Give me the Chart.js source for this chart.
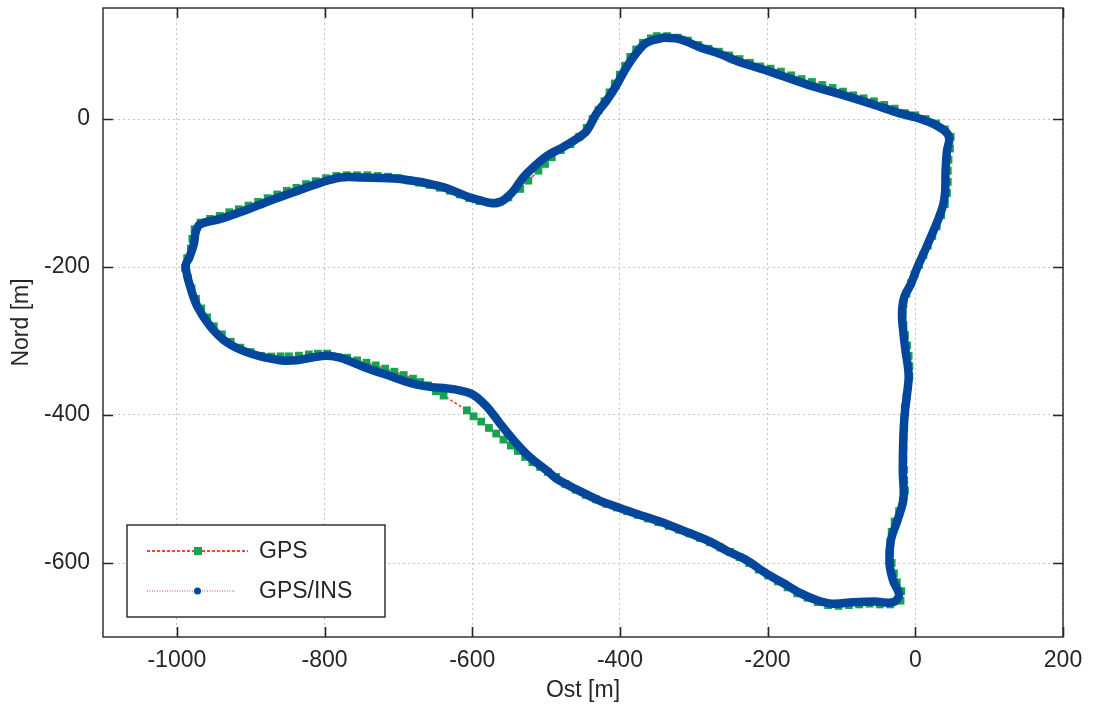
<!DOCTYPE html>
<html>
<head>
<meta charset="utf-8">
<script src="https://cdn.jsdelivr.net/npm/chart.js@4.4.1/dist/chart.umd.min.js"></script>
<style>
  html, body { margin: 0; padding: 0; background: #fff; }
  #wrap { width: 1098px; height: 705px; }
</style>
</head>
<body>
<div id="wrap"><canvas id="trackChart"></canvas></div>
<script>
// tick labels
const xTicks = [-1000, -800, -600, -400, -200, 0, 200];
const yTicks = [-600, -400, -200, 0];

// GPS/INS track [Ost, Nord] in m
const insTrack = [
  [-341, 110], [-319, 108], [-292, 97], [-265, 88], [-238, 77], [-200, 65],
  [-148, 47], [-103, 34], [-58, 20], [-22, 8], [1, 2], [23, -6], [41, -17],
  [46, -27], [43, -42], [41, -70], [40.5, -97], [38, -115], [32, -133],
  [23, -155], [12, -180], [3, -200], [-6, -223], [-15, -241], [-18, -263],
  [-16, -290], [-13, -315], [-10, -335], [-9, -350], [-11, -370], [-14, -395],
  [-16, -425], [-17, -475], [-16, -513], [-24, -542], [-33, -569], [-35, -600],
  [-30, -624], [-22, -643], [-30, -653], [-55, -652], [-85, -653], [-112, -655],
  [-134, -650], [-157, -640], [-179, -627], [-202, -614], [-229, -596],
  [-256, -583], [-278, -571], [-315, -556], [-346, -544], [-382, -532],
  [-405, -524], [-427, -516], [-456, -502], [-486, -486], [-499, -475],
  [-522, -457], [-544, -434], [-562, -412], [-580, -389], [-598, -373],
  [-616, -367], [-634, -364], [-657, -362], [-679, -358], [-715, -346],
  [-747, -335], [-778, -323], [-796, -320], [-815, -322], [-837, -326],
  [-860, -326], [-900, -317], [-932, -302], [-954, -281], [-972, -254],
  [-983, -223], [-988, -198], [-983, -187], [-977, -169], [-974, -151],
  [-968, -142], [-941, -135], [-909, -124], [-873, -110], [-842, -99],
  [-805, -86], [-778, -79], [-751, -79], [-697, -81], [-643, -91],
  [-603, -106], [-589, -110], [-571, -114], [-558, -110], [-544, -97],
  [-531, -79], [-517, -65], [-499, -50], [-477, -38], [-459, -27],
  [-445, -16], [-432, 7], [-418, 25], [-405, 45], [-391, 70], [-377, 90],
  [-364, 103], [-341, 110]
];

// GPS fixes [Ost, Nord] in m
const gpsTrack = [
  [-350, 112], [-336, 112], [-322, 110], [-308, 106], [-294, 100], [-280, 95],
  [-266, 91], [-252, 86], [-238, 81], [-224, 76], [-210, 71], [-196, 68],
  [-182, 64], [-168, 59], [-154, 54], [-140, 50], [-126, 46], [-112, 42],
  [-98, 37], [-84, 32], [-70, 28], [-56, 24], [-42, 19], [-28, 14], [-14, 8],
  [0, 5], [14, 0], [28, -6], [40, -14], [48, -24],
  [47, -40], [45, -55], [44, -70], [44, -85], [43, -100], [40, -115],
  [35, -130], [29, -145], [23, -158], [17, -171], [11, -184], [5, -197],
  [-1, -210], [-6, -222], [-12, -236], [-16, -250], [-17, -264], [-16, -278],
  [-14, -292], [-11, -306], [-9, -320], [-8, -334], [-8, -348], [-10, -362],
  [-12, -376], [-14, -390], [-15, -404], [-15, -418], [-16, -432], [-16, -446],
  [-16, -460], [-15, -474], [-15, -488], [-14, -502], [-17, -516], [-22, -530],
  [-28, -544], [-32, -558], [-34, -572], [-34, -586], [-32, -600], [-29, -614],
  [-25, -626], [-19, -638], [-20, -651],
  [-34, -656], [-48, -656], [-62, -655], [-76, -656], [-90, -657], [-104, -658],
  [-118, -657], [-132, -653], [-146, -647], [-160, -641], [-173, -633],
  [-186, -625], [-199, -617], [-212, -609], [-225, -600], [-238, -592],
  [-251, -585], [-264, -579], [-278, -572], [-292, -566], [-306, -560],
  [-320, -555], [-334, -550], [-348, -545], [-362, -540], [-376, -535],
  [-390, -530], [-404, -525], [-418, -520], [-432, -514], [-446, -508],
  [-460, -501], [-474, -493], [-486.5, -483.7], [-497.7, -476.9],
  [-508.1, -470.2], [-518.5, -463.8], [-528.4, -456.7], [-538.2, -448.6],
  [-547.7, -441.3], [-557.7, -433.2], [-567.6, -425.1], [-577.4, -417.5],
  [-587.8, -408.9], [-598.2, -401.8], [-607.2, -393.7], [-638.8, -373.8],
  [-649.1, -368], [-659.9, -359.9], [-670.3, -355.5], [-680.2, -350.9],
  [-692.8, -346], [-705.4, -341.5], [-718, -337.4], [-730.7, -333],
  [-743.2, -329.3], [-755.9, -326.2], [-769.4, -322.6], [-782, -321.7],
  [-796.4, -317.1], [-809, -317.1], [-821.2, -318.1], [-834.7, -319.8],
  [-848.2, -320.7], [-859.5, -320.7],
  [-872, -321], [-886, -320], [-900, -315], [-914, -309], [-927, -301],
  [-939, -291], [-950, -280], [-959, -268], [-967, -256], [-974, -243],
  [-980, -229], [-985, -215], [-989, -201], [-986, -188], [-981, -175],
  [-979, -162], [-976, -149], [-968, -140], [-955, -135], [-942, -131],
  [-929, -126], [-916, -122], [-903, -117], [-890, -112], [-877, -107],
  [-864, -102], [-851, -97], [-838, -93], [-825, -88], [-812, -84],
  [-798, -80], [-784, -77], [-770, -76], [-756, -76], [-742, -76],
  [-728, -77], [-714, -78], [-700, -80], [-686, -83], [-672, -86],
  [-658, -89], [-644, -93], [-630, -97], [-617, -102], [-604, -107],
  [-590, -111], [-576, -113], [-563, -112], [-551, -106], [-535, -94.5],
  [-524, -83.3], [-510.4, -69.8], [-501.4, -60.7], [-492.3, -51.8],
  [-480, -42], [-467, -34], [-455, -24], [-445, -12], [-437, 0], [-429, 12],
  [-421, 24], [-414, 36], [-407, 48], [-400, 60], [-393, 72], [-386, 84],
  [-378, 94], [-369, 103], [-358, 109]
];

const seriesNames = ['GPS', 'GPS/INS'];

const txt = '#262626';
const font = { family: 'Liberation Sans, Arial, sans-serif', size: 23 };
const blue = '#02479b';
const green = '#17a34f';
const red = '#ec4a24';
const pink = '#e79bc0';

const toPts = arr => arr.map(p => ({ x: p[0], y: p[1] }));

// box, inward ticks and legend like the original figure
const frameAndLegend = {
  id: 'frameAndLegend',
  afterDraw(chart) {
    const { ctx, chartArea: a, scales } = chart;
    ctx.save();
    ctx.strokeStyle = txt;
    ctx.lineWidth = 1.6;
    ctx.beginPath();
    xTicks.forEach(v => {
      const px = Math.round(scales.x.getPixelForValue(v)) + 0.5;
      ctx.moveTo(px, a.bottom); ctx.lineTo(px, a.bottom - 10);
      ctx.moveTo(px, a.top); ctx.lineTo(px, a.top + 10);
    });
    yTicks.forEach(v => {
      const py = Math.round(scales.y.getPixelForValue(v)) + 0.5;
      ctx.moveTo(a.left, py); ctx.lineTo(a.left + 10, py);
      ctx.moveTo(a.right, py); ctx.lineTo(a.right - 10, py);
    });
    ctx.stroke();
    ctx.lineWidth = 1.4;
    ctx.strokeRect(a.left, a.top, a.right - a.left, a.bottom - a.top);

    // legend
    const lx = a.left + 24, ly = a.bottom - 112, lw = 258, lh = 92;
    ctx.fillStyle = '#fff';
    ctx.fillRect(lx, ly, lw, lh);
    ctx.strokeRect(lx, ly, lw, lh);
    const rows = [ly + 26, ly + 66];
    ctx.lineWidth = 2;
    // GPS sample
    ctx.strokeStyle = red;
    ctx.setLineDash([3, 2]);
    ctx.beginPath(); ctx.moveTo(lx + 20, rows[0]); ctx.lineTo(lx + 121, rows[0]); ctx.stroke();
    ctx.setLineDash([]);
    ctx.fillStyle = green;
    ctx.fillRect(lx + 67, rows[0] - 4, 8, 8);
    // GPS/INS sample
    ctx.strokeStyle = pink;
    ctx.setLineDash([1, 1.5]);
    ctx.beginPath(); ctx.moveTo(lx + 20, rows[1]); ctx.lineTo(lx + 108, rows[1]); ctx.stroke();
    ctx.setLineDash([]);
    ctx.fillStyle = blue;
    ctx.beginPath(); ctx.arc(lx + 70.5, rows[1], 3.5, 0, Math.PI * 2); ctx.fill();
    // texts
    ctx.fillStyle = txt;
    ctx.font = font.size + 'px ' + font.family;
    ctx.textBaseline = 'middle';
    ctx.textAlign = 'left';
    ctx.fillText(seriesNames[0], lx + 132, rows[0] + 1);
    ctx.fillText(seriesNames[1], lx + 132, rows[1] + 1);
    ctx.restore();
  }
};

new Chart(document.getElementById('trackChart'), {
  type: 'scatter',
  data: {
    datasets: [
      {
        label: seriesNames[1],
        data: toPts(insTrack),
        showLine: true,
        borderColor: blue,
        borderWidth: 8.5,
        borderCapStyle: 'round',
        borderJoinStyle: 'round',
        tension: 0.35,
        pointRadius: 0,
        order: 0
      },
      {
        label: seriesNames[0],
        data: toPts(gpsTrack),
        showLine: true,
        borderColor: red,
        borderWidth: 1.6,
        borderDash: [3, 2],
        tension: 0,
        pointStyle: 'rect',
        pointRadius: 5.5,
        pointBackgroundColor: green,
        pointBorderWidth: 0,
        order: 1
      }
    ]
  },
  options: {
    responsive: true,
    maintainAspectRatio: false,
    animation: false,
    layout: { padding: { top: 8, right: 35, left: 0, bottom: 0 } },
    plugins: { legend: { display: false }, tooltip: { enabled: false } },
    scales: {
      x: {
        type: 'linear',
        min: -1100,
        max: 200,
        afterBuildTicks: s => { s.ticks = xTicks.map(v => ({ value: v })); },
        afterFit: s => { s.height = 68; s.paddingLeft = 0; s.paddingRight = 0; },
        grid: { color: '#c4c4c4', lineWidth: 1, drawTicks: false },
        border: { display: false, dash: [2, 3] },
        ticks: { font: font, color: txt, padding: 10, maxRotation: 0, callback: v => String(v) },
        title: { display: true, text: 'Ost [m]', font: font, color: txt, padding: { top: 0, bottom: 1 } }
      },
      y: {
        type: 'linear',
        min: -700,
        max: 150,
        afterBuildTicks: s => { s.ticks = yTicks.map(v => ({ value: v })); },
        afterFit: s => { s.width = 103; s.paddingTop = 0; s.paddingBottom = 0; },
        grid: { color: '#c4c4c4', lineWidth: 1, drawTicks: false },
        border: { display: false, dash: [2, 3] },
        ticks: { font: font, color: txt, padding: 13, callback: v => String(v) },
        title: { display: true, text: 'Nord [m]', font: font, color: txt, padding: { top: 8, bottom: 0 } }
      }
    }
  },
  plugins: [frameAndLegend]
});
</script>
</body>
</html>
